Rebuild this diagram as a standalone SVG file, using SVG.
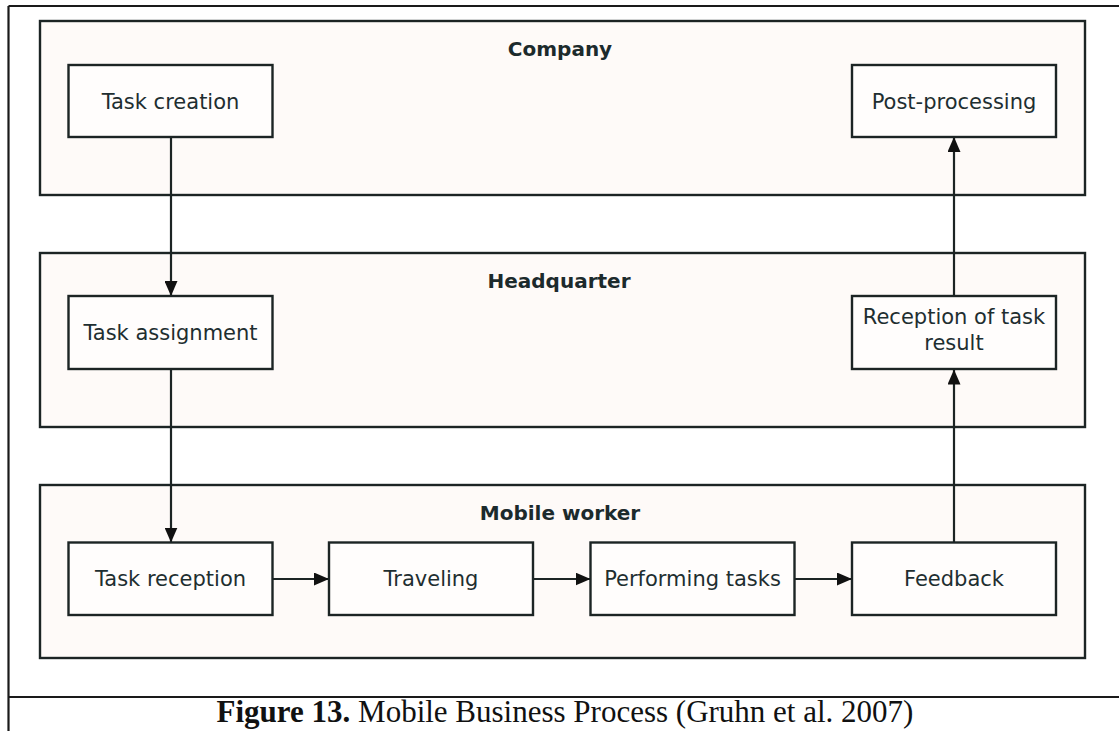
<svg xmlns="http://www.w3.org/2000/svg" width="1119" height="731" viewBox="0 0 1119 731">
  <style>
    .frame { stroke: #1a1a1a; stroke-width: 2.2; fill: none; }
    .lane { fill: #fefaf8; stroke: #1c2424; stroke-width: 2.4; }
    .node { fill: #fffdfc; stroke: #1c2424; stroke-width: 2.4; }
    .lane-title { font-family: "DejaVu Sans", Verdana, sans-serif; font-weight: bold; font-size: 20px; fill: #1c2a2c; text-anchor: middle; }
    .label { font-family: "DejaVu Sans", Verdana, sans-serif; font-size: 21px; fill: #1e2e30; text-anchor: middle; }
    .conn { stroke: #1c2424; stroke-width: 2.2; fill: none; marker-end: url(#arrow); }
    .caption { font-family: "Liberation Serif", "Times New Roman", serif; font-size: 31px; fill: #111; }
  </style>
  <defs>
    <marker id="arrow" markerUnits="userSpaceOnUse" markerWidth="15" markerHeight="13" refX="15" refY="6.5" orient="auto">
      <path d="M0,0 L15,6.5 L0,13 z" fill="#111"/>
    </marker>
  </defs>

  <rect x="0" y="0" width="1119" height="731" fill="#ffffff"/>

  <g id="frame">
    <line class="frame" x1="8.5" y1="6" x2="1119" y2="6"/>
    <line class="frame" x1="8.5" y1="6" x2="8.5" y2="731"/>
    <line class="frame" x1="8.5" y1="697" x2="1119" y2="697"/>
  </g>

  <g id="lane-company">
    <rect class="lane" x="40" y="21" width="1045" height="174"/>
    <text class="lane-title" x="560" y="56">Company</text>
  </g>
  <g id="lane-headquarter">
    <rect class="lane" x="40" y="253" width="1045" height="174"/>
    <text class="lane-title" x="559" y="288">Headquarter</text>
  </g>
  <g id="lane-mobile-worker">
    <rect class="lane" x="40" y="485" width="1045" height="173"/>
    <text class="lane-title" x="560" y="520">Mobile worker</text>
  </g>

  <g id="connectors">
    <line class="conn" x1="171" y1="137" x2="171" y2="296"/>
    <line class="conn" x1="171" y1="369" x2="171" y2="542.5"/>
    <line class="conn" x1="272.5" y1="579" x2="329" y2="579"/>
    <line class="conn" x1="533" y1="579" x2="590.5" y2="579"/>
    <line class="conn" x1="794.5" y1="579" x2="852" y2="579"/>
    <line class="conn" x1="954" y1="542.5" x2="954" y2="369.5"/>
    <line class="conn" x1="954" y1="296" x2="954" y2="137"/>
  </g>

  <g id="task-creation">
    <rect class="node" x="68.5" y="65" width="204" height="72"/>
    <text class="label" x="170.5" y="108.5">Task creation</text>
  </g>
  <g id="post-processing">
    <rect class="node" x="852" y="65" width="204" height="72"/>
    <text class="label" x="954" y="108.5">Post-processing</text>
  </g>
  <g id="task-assignment">
    <rect class="node" x="68.5" y="296" width="204" height="73"/>
    <text class="label" x="170.5" y="340">Task assignment</text>
  </g>
  <g id="reception-of-task-result">
    <rect class="node" x="852" y="296" width="204" height="73"/>
    <text class="label" x="954" y="324">Reception of task</text>
    <text class="label" x="954" y="350">result</text>
  </g>
  <g id="task-reception">
    <rect class="node" x="68.5" y="542.5" width="204" height="72.5"/>
    <text class="label" x="170.5" y="586">Task reception</text>
  </g>
  <g id="traveling">
    <rect class="node" x="329" y="542.5" width="204" height="72.5"/>
    <text class="label" x="431" y="586">Traveling</text>
  </g>
  <g id="performing-tasks">
    <rect class="node" x="590.5" y="542.5" width="204" height="72.5"/>
    <text class="label" x="692.5" y="586">Performing tasks</text>
  </g>
  <g id="feedback">
    <rect class="node" x="852" y="542.5" width="204" height="72.5"/>
    <text class="label" x="954" y="586">Feedback</text>
  </g>

  <text class="caption" x="565" y="722" text-anchor="middle"><tspan font-weight="bold">Figure 13.</tspan> Mobile Business Process (Gruhn et al. 2007)</text>
</svg>
